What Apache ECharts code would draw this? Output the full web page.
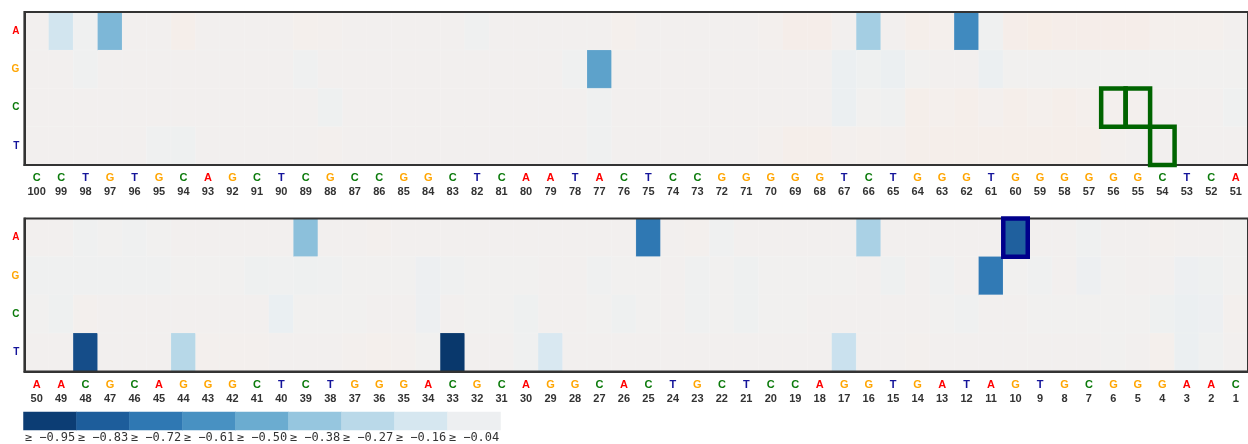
<!DOCTYPE html>
<html>
<head>
<meta charset="utf-8">
<script src="https://cdn.jsdelivr.net/npm/echarts@6/dist/echarts.min.js"></script>
<style>
  html, body { margin: 0; padding: 0; background: #ffffff; }
  #chart { width: 1248px; height: 444px; }
</style>
</head>
<body>
<div id="chart"></div>
<script>
// Reference sequence, read from position 100 down to position 1
const SEQ_TOP    = 'CCTGTGCAGCTCGCCGGCTCAATACTCCGGGGGTCTGGGTGGGGGGCTCA'; // 100..51
const SEQ_BOTTOM = 'AACGCAGGGCTCTGGGACGCAGGCACTGCTCCAGGTGATAGTGCGGGAAC'; // 50..1

const NUCLEOTIDES = ['A', 'G', 'C', 'T'];

// Effect scores per substituted base, positions 100 -> 1 (ten per line)
const SCORE_A = [
   0.00, -0.18, -0.02, -0.45,  0.00,  0.00,  0.03,  0.00,  0.00,  0.00,
   0.00,  0.02,  0.01,  0.00,  0.00,  0.00,  0.00,  0.00, -0.02,  0.00,
   0.00,  0.00,  0.00,  0.00,  0.02,  0.00,  0.00,  0.00,  0.00,  0.00,
   0.01,  0.04,  0.04,  0.00, -0.34,  0.00,  0.03,  0.02, -0.64, -0.02,
   0.04,  0.05,  0.04,  0.04,  0.04,  0.04,  0.02,  0.02,  0.02,  0.00,
   0.00,  0.00, -0.02, -0.01, -0.02, -0.01,  0.00,  0.00,  0.00,  0.00,
   0.00, -0.41,  0.00,  0.00,  0.01,  0.00,  0.00,  0.00,  0.00,  0.00,
   0.00,  0.00,  0.00,  0.00,  0.00, -0.72,  0.00,  0.01, -0.02,  0.00,
   0.00,  0.00,  0.00,  0.00, -0.32,  0.00,  0.00,  0.00,  0.00,  0.00,
  -0.82,  0.00,  0.00, -0.02,  0.00,  0.00,  0.01,  0.00,  0.00, -0.01
];
const SCORE_G = [
   0.00,  0.00, -0.02,  0.00,  0.00,  0.00,  0.00,  0.00,  0.00,  0.00,
   0.00, -0.02,  0.00,  0.00,  0.00,  0.00,  0.00,  0.00,  0.00,  0.00,
   0.00,  0.00, -0.02, -0.54,  0.00,  0.00,  0.00,  0.00,  0.00,  0.00,
   0.00,  0.00,  0.00, -0.05, -0.03, -0.05, -0.01,  0.00,  0.00, -0.05,
  -0.01, -0.01, -0.01, -0.01, -0.01, -0.01, -0.01, -0.01, -0.01, -0.01,
  -0.02, -0.02, -0.02, -0.02, -0.02, -0.02, -0.01, -0.01, -0.01, -0.03,
  -0.02, -0.03, -0.02, -0.01, -0.01, -0.01, -0.04, -0.02, -0.01, -0.01,
  -0.01,  0.00,  0.00, -0.02, -0.01, -0.01,  0.00, -0.02, -0.01, -0.03,
  -0.01, -0.01, -0.01, -0.01,  0.00, -0.03,  0.00, -0.02,  0.00, -0.71,
  -0.01, -0.02,  0.00, -0.04, -0.01,  0.00,  0.00, -0.04, -0.03, -0.01
];
const SCORE_C = [
   0.00,  0.00,  0.00,  0.00,  0.00,  0.00,  0.00,  0.00,  0.00,  0.00,
   0.00,  0.00, -0.03,  0.00,  0.00,  0.00,  0.00,  0.00,  0.00,  0.00,
   0.00,  0.00,  0.00, -0.02,  0.00,  0.00,  0.00,  0.00,  0.00,  0.00,
   0.00,  0.00,  0.00, -0.05, -0.01, -0.02,  0.03,  0.02,  0.03,  0.01,
   0.03,  0.02,  0.03,  0.02,  0.01,  0.01,  0.00,  0.00,  0.00, -0.02,
  -0.01, -0.03,  0.01,  0.00,  0.00,  0.00,  0.00,  0.00,  0.00,  0.00,
  -0.06, -0.01, -0.01, -0.01,  0.00,  0.00, -0.04,  0.00, -0.01, -0.01,
  -0.03,  0.00,  0.00, -0.01, -0.03, -0.01,  0.00, -0.02, -0.01, -0.03,
  -0.01, -0.01,  0.00,  0.00,  0.00,  0.00,  0.00, -0.01, -0.02,  0.00,
   0.00, -0.01, -0.01, -0.01, -0.01, -0.01, -0.03, -0.05, -0.04,  0.01
];
const SCORE_T = [
   0.00,  0.00,  0.00,  0.00,  0.00, -0.02, -0.03,  0.00,  0.00,  0.00,
   0.00,  0.00,  0.01,  0.00,  0.00,  0.00,  0.00,  0.00,  0.00,  0.00,
   0.00,  0.00,  0.00, -0.02,  0.00,  0.00,  0.00,  0.00,  0.00,  0.00,
   0.01,  0.03,  0.03,  0.01,  0.02,  0.01,  0.03,  0.03,  0.03,  0.03,
   0.03,  0.03,  0.03,  0.03,  0.01,  0.00,  0.00,  0.00,  0.00,  0.00,
   0.00,  0.00, -0.89,  0.00,  0.00,  0.00, -0.28,  0.01,  0.01,  0.01,
   0.00,  0.00,  0.00,  0.01,  0.02,  0.01, -0.01, -0.97,  0.00,  0.00,
  -0.02, -0.15,  0.00,  0.00,  0.00,  0.00,  0.00,  0.00,  0.00,  0.00,
   0.00,  0.00,  0.00, -0.21,  0.00,  0.00,  0.01,  0.00,  0.00,  0.00,
   0.00,  0.00,  0.00,  0.00, -0.01,  0.00,  0.02, -0.05, -0.02,  0.00
];

// Outlined cells: [position, base]
const MARKED_GREEN = [['56', 'C'], ['55', 'C'], ['54', 'T']];
const MARKED_NAVY  = [['10', 'A']];

// Colour key thresholds
const KEY_STEPS = [-0.95, -0.83, -0.72, -0.61, -0.50, -0.38, -0.27, -0.16, -0.04];

// ---------------------------------------------------------------------------
const BASE_COLORS = { A: '#ff0000', G: '#ffa500', C: '#0b7a0b', T: '#14149a' };

// RdBu diverging ramp, smoothed with a uniform B-spline
const RDBU = ['#67001f','#b2182b','#d6604d','#f4a582','#fddbc7','#f7f7f7',
              '#d1e5f0','#92c5de','#4393c3','#2166ac','#053061'];
function splineChannel(values) {
  const n = values.length - 1;
  return function (t) {
    let i;
    if (t <= 0) { t = 0; i = 0; }
    else if (t >= 1) { t = 1; i = n - 1; }
    else i = Math.floor(t * n);
    const v1 = values[i], v2 = values[i + 1];
    const v0 = i > 0 ? values[i - 1] : 2 * v1 - v2;
    const v3 = i < n - 1 ? values[i + 2] : 2 * v2 - v1;
    const t1 = (t - i / n) * n, t2 = t1 * t1, t3 = t2 * t1;
    return ((1 - 3 * t1 + 3 * t2 - t3) * v0 + (4 - 6 * t2 + 3 * t3) * v1 +
            (1 + 3 * t1 + 3 * t2 - 3 * t3) * v2 + t3 * v3) / 6;
  };
}
const rgbStops = RDBU.map(h => [1, 3, 5].map(k => parseInt(h.substr(k, 2), 16)));
const chR = splineChannel(rgbStops.map(c => c[0]));
const chG = splineChannel(rgbStops.map(c => c[1]));
const chB = splineChannel(rgbStops.map(c => c[2]));
function rdbu(t) {
  const c = v => Math.max(0, Math.min(255, Math.round(v)));
  return 'rgb(' + c(chR(t)) + ',' + c(chG(t)) + ',' + c(chB(t)) + ')';
}
// score -1 -> deep blue, +1 -> deep red
const RAMP = [];
for (let k = 0; k <= 200; k++) RAMP.push(rdbu(1 - k / 200));

// ---------------------------------------------------------------------------
const positionsTop = [], positionsBottom = [];
for (let p = 100; p >= 51; p--) positionsTop.push(String(p));
for (let p = 50; p >= 1; p--) positionsBottom.push(String(p));
const refBase = {};
positionsTop.forEach((p, i) => { refBase[p] = SEQ_TOP[i]; });
positionsBottom.forEach((p, i) => { refBase[p] = SEQ_BOTTOM[i]; });

const ROWS = { A: SCORE_A, G: SCORE_G, C: SCORE_C, T: SCORE_T };
function cells(offset) {
  const out = [];
  for (let i = 0; i < 50; i++) {
    NUCLEOTIDES.forEach((b, r) => out.push([i, r, ROWS[b][offset + i]]));
  }
  return out;
}

const FONT = '"Liberation Sans", Arial, Helvetica, sans-serif';
const richBases = {};
NUCLEOTIDES.forEach(b => {
  richBases[b] = { color: BASE_COLORS[b], fontWeight: 'bold', fontSize: 11,
                   fontFamily: FONT, lineHeight: 14 };
});
richBases.n = { color: '#333333', fontWeight: 'bold', fontSize: 11,
                fontFamily: FONT, lineHeight: 14 };

function posAxis(gridIndex, data) {
  return {
    type: 'category', gridIndex, data, z: 10,
    axisLine: { lineStyle: { color: '#333333', width: 2 } },
    axisTick: { alignWithLabel: true, length: 4, lineStyle: { color: '#555555' } },
    splitLine: { show: false },
    axisLabel: {
      interval: 0, margin: 6,
      formatter: v => '{' + refBase[v] + '|' + refBase[v] + '}\n{n|' + v + '}',
      rich: richBases
    }
  };
}
function baseAxis(gridIndex) {
  const rich = {};
  NUCLEOTIDES.forEach(b => {
    rich[b] = { color: BASE_COLORS[b], fontWeight: 'bold', fontSize: 10, fontFamily: FONT };
  });
  return {
    type: 'category', gridIndex, data: NUCLEOTIDES, inverse: true, z: 10,
    axisLine: { lineStyle: { color: '#333333', width: 2 } },
    axisTick: { show: false },
    splitLine: { show: false },
    axisLabel: { margin: 5, formatter: v => '{' + v + '|' + v + '}', rich }
  };
}

function outlineSeries(xAxisIndex, yAxisIndex, data, color, width) {
  return {
    type: 'custom', xAxisIndex, yAxisIndex, data, z: 20, silent: true,
    renderItem: function (params, api) {
      const c = api.coord([api.value(0), api.value(1)]);
      const s = api.size([1, 1]);
      return {
        type: 'rect',
        shape: { x: c[0] - s[0] / 2, y: c[1] - s[1] / 2, width: s[0], height: s[1] },
        style: { fill: 'none', stroke: color, lineWidth: width }
      };
    }
  };
}

const topMarks = MARKED_GREEN.filter(m => +m[0] > 50);
const bottomMarksNavy = MARKED_NAVY.filter(m => +m[0] <= 50);

const chart = echarts.init(document.getElementById('chart'), null, { renderer: 'canvas' });
chart.setOption({
  animation: false,
  backgroundColor: '#ffffff',
  grid: [
    { left: 24.4, top: 12, width: 1228, height: 153, show: true, z: 10,
      borderColor: '#333333', borderWidth: 2, backgroundColor: 'transparent' },
    { left: 24.4, top: 218.5, width: 1228, height: 153, show: true, z: 10,
      borderColor: '#333333', borderWidth: 2, backgroundColor: 'transparent' },
    { left: 23.5, top: 412, width: 477, height: 21 }
  ],
  xAxis: [
    posAxis(0, positionsTop),
    posAxis(1, positionsBottom),
    {
      type: 'category', gridIndex: 2,
      data: KEY_STEPS.map(v => '≥ ' + v.toFixed(2).replace('-', '−')),
      axisLine: { show: false }, axisTick: { show: false }, splitLine: { show: false },
      axisLabel: { interval: 0, margin: 2, color: '#333333', fontSize: 12,
                   fontFamily: '"DejaVu Sans Mono", monospace' }
    }
  ],
  yAxis: [
    baseAxis(0),
    baseAxis(1),
    { type: 'category', gridIndex: 2, data: ['key'], show: false }
  ],
  visualMap: {
    type: 'continuous', show: false, min: -1, max: 1, dimension: 2,
    seriesIndex: [0, 1, 2], inRange: { color: RAMP }
  },
  series: [
    { type: 'heatmap', xAxisIndex: 0, yAxisIndex: 0, data: cells(0),
      itemStyle: { borderColor: 'rgba(255,255,255,0.25)', borderWidth: 0.5 } },
    { type: 'heatmap', xAxisIndex: 1, yAxisIndex: 1, data: cells(50),
      itemStyle: { borderColor: 'rgba(255,255,255,0.25)', borderWidth: 0.5 } },
    { type: 'heatmap', xAxisIndex: 2, yAxisIndex: 2,
      data: KEY_STEPS.map((v, i) => [i, 0, v]) },
    outlineSeries(0, 0, topMarks.map(m => [m[0], m[1]]), '#006400', 4.5),
    outlineSeries(1, 1, bottomMarksNavy.map(m => [m[0], m[1]]), '#00008b', 4.5)
  ]
});
</script>
</body>
</html>
